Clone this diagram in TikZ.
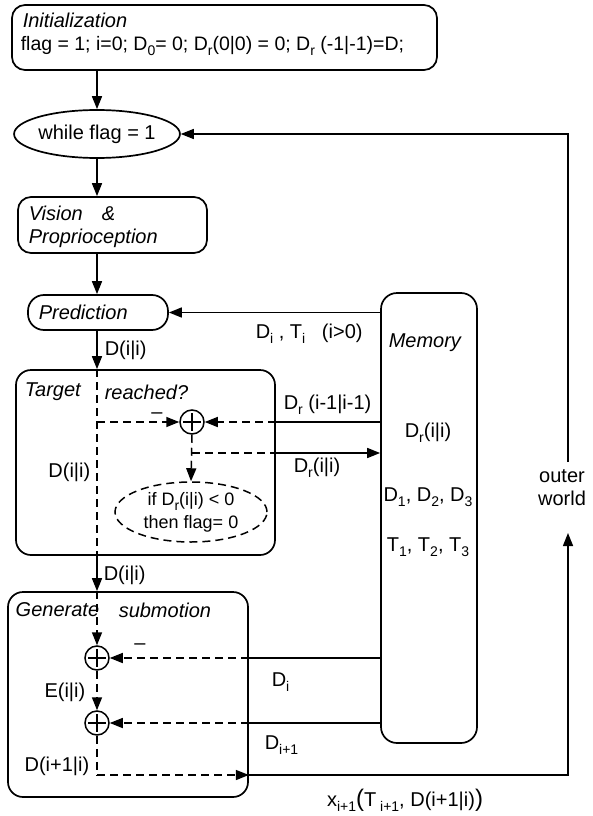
\documentclass[tikz,border=0pt]{standalone}
\usepackage{fontspec}
\setmainfont{Liberation Sans}
\usetikzlibrary{arrows.meta,shapes.geometric}

\newcommand{\sbs}[1]{\raisebox{-5pt}{\fontsize{14}{14}\selectfont #1}}

\tikzset{
  blk/.style={draw, rounded corners=13pt, line width=1.7pt, inner sep=0pt},
  ttl/.style={anchor=west, font=\itshape, inner sep=0pt},
  lbl/.style={inner sep=0pt},
  fl/.style={-{Triangle[length=13pt,width=10pt]}},
  dsh/.style={dash pattern=on 8pt off 5pt},
  summer/.style={circle, draw, minimum size=24pt, inner sep=0pt, line width=1.5pt},
}

\begin{document}
\fontsize{20}{24}\selectfont
\begin{tikzpicture}[x=1pt, y=-1pt, line width=1.5pt]
  \useasboundingbox (0,0) rectangle (592,816);

  % boxes
  \node[blk, minimum width=425pt, minimum height=65pt] (init) at (224.5,37.5) {};
  \node[blk, ellipse, minimum width=152pt, minimum height=48pt] (while) at (97,134) {while flag = 1};
  \node[blk, minimum width=189pt, minimum height=56pt] (vision) at (112.5,225) {};
  \node[blk, rounded corners=16pt, minimum width=140pt, minimum height=35pt] (pred) at (98,312.5) {};
  \node[blk, rounded corners=15pt, minimum width=259pt, minimum height=185pt] (target) at (145.5,462.5) {};
  \node[blk, rounded corners=15pt, minimum width=240pt, minimum height=205pt] (gen) at (128,694.5) {};
  \node[blk, rounded corners=16pt, minimum width=96pt, minimum height=450pt] (mem) at (429,518) {};
  \node[draw, dsh, ellipse, minimum width=152pt, minimum height=60pt, inner sep=0pt, align=center,
        font=\fontsize{18}{23}\selectfont] (cond) at (191,512)
        {if\ D\sbs{r}(i|i) < 0\\then\ flag= 0};
  \node[summer] (p1) at (192,422) {};
  \node[summer] (p2) at (97,658) {};
  \node[summer] (p3) at (97,723) {};
  \foreach \s in {p1, p2, p3}{
    \draw ([yshift=-4pt]\s.north) -- ([yshift=4pt]\s.south)
          ([xshift=4pt]\s.west) -- ([xshift=-4pt]\s.east);
  }

  % titles and texts
  \node[ttl] (tinit) at (22,20) {Initialization};
  \node[lbl, anchor=west, font=\fontsize{19.5}{24}\selectfont] (tflag) at (20,46)
    {flag = 1; i=0;\ D\sbs{0}= 0; D\sbs{r}(0|0) = 0; D\sbs{r} (-1|-1)=D;};
  \node[ttl] (tvis) at (28,213) {Vision\hspace{19pt}\&};
  \node[ttl] (tprop) at (28,238) {Proprioception};
  \node[ttl] (tpred) at (38,312) {Prediction};
  \node[ttl] (ttar) at (24,392) {Target};
  \node[ttl] (treach) at (104,392) {reached?};
  \node[ttl] (tgen) at (15,610) {Generate};
  \node[ttl] (tsub) at (118,610) {submotion};
  \node[ttl] (tmem) at (388,343) {Memory};
  \node[lbl] (mdr) at (428,433) {D\sbs{r}(i|i)};
  \node[lbl] (mdd) at (428,497) {D\sbs{1}, D\sbs{2}, D\sbs{3}};
  \node[lbl] (mtt) at (428,547) {T\sbs{1}, T\sbs{2}, T\sbs{3}};

  % labels on the connectors
  \node[lbl, anchor=west] (ldp) at (104,350) {D(i|i)};
  \node[lbl, anchor=west] (ldt) at (255,334) {D\sbs{i} , T\sbs{i}\ \ \ (i>0)};
  \node[lbl, anchor=west] (ldr) at (283,405) {D\sbs{r} (i-1|i-1)};
  \node[lbl] (lm1) at (157,416) {\textendash};
  \node[lbl, anchor=east] (ldl) at (91,472) {D(i|i)};
  \node[lbl, anchor=west] (ldri) at (293,468) {D\sbs{r}(i|i)};
  \node[lbl, anchor=west] (ldb) at (103,575) {D(i|i)};
  \node[lbl] (lm2) at (140,647) {\textendash};
  \node[lbl, anchor=west] (ldi) at (271,682) {D\sbs{i}};
  \node[lbl, anchor=east] (lei) at (86,692) {E(i|i)};
  \node[lbl, anchor=west] (ldi1) at (264,745) {D\sbs{i+1}};
  \node[lbl, anchor=east] (ldn) at (90,766) {D(i+1|i)};
  \node[lbl] (lx) at (405,800) {x\sbs{i+1}{\fontsize{24}{24}\selectfont(}T\sbs{ i+1}, D(i+1|i){\fontsize{24}{24}\selectfont)}};
  \node[lbl, align=center, font=\fontsize{20}{23}\selectfont] (lw) at (562,488) {outer\\world};

  \coordinate (split) at (192,453);
  \coordinate (corner) at (97,775);
  \coordinate (wtop) at (568,462);
  \coordinate (wbot) at (568,533);

  % main flow
  \draw[fl] (init.south -| while.north) -- (while.north);
  \draw[fl] (while.south) -- (while.south |- vision.north);
  \draw[fl] (while.south |- vision.south) -- (while.south |- pred.north);
  \draw[fl] (while.south |- pred.south) -- (while.south |- target.north);
  \draw[dsh] (while.south |- target.north) -- (while.south |- target.south);
  \draw[fl] (while.south |- target.south) -- (while.south |- gen.north);
  \draw[dsh, fl] (while.south |- gen.north) -- (p2.north);
  \draw[dsh, fl] (p2.south) -- (p3.north);
  \draw[dsh] (p3.south) -- (corner);
  \draw[dsh, fl] (corner) -- (gen.east |- corner);
  \draw[fl] (gen.east |- corner) -- (wbot |- corner) -- (wbot);
  \draw[fl] (wtop) -- (wtop |- while) -- (while.east);

  % target reached?
  \draw[dsh, fl] (while.south |- p1) -- (p1.west);
  \draw (mem.west |- p1) -- (target.east |- p1);
  \draw[dsh, fl] (target.east |- p1) -- (p1.east);
  \draw[dsh, fl] (p1.south) -- (cond.north);
  \draw[dsh] (split) -- (target.east |- split);
  \draw[fl] (target.east |- split) -- (mem.west |- split);

  % memory
  \draw[fl] (mem.west |- pred) -- (pred.east);
  \draw (mem.west |- p2) -- (gen.east |- p2);
  \draw[dsh, fl] (gen.east |- p2) -- (p2.east);
  \draw (mem.west |- p3) -- (gen.east |- p3);
  \draw[dsh, fl] (gen.east |- p3) -- (p3.east);
\end{tikzpicture}
\end{document}
